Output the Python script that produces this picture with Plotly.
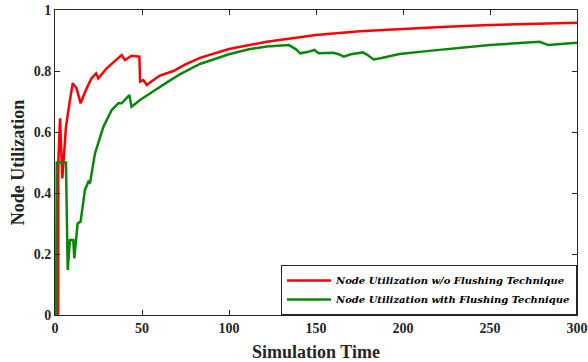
import plotly.graph_objects as go

# Red series: Node Utilization w/o Flushing Technique
red_x = [0, 1.8, 1.9, 2.9, 4.2, 6.3, 8.6, 10.2, 12.4, 14.7, 18.2, 21.0, 23.6, 24.9, 29.7, 34, 38.3, 40.2, 44.0, 48.5, 48.9, 50.8, 52.7, 56, 60.3, 68, 75, 83.3, 100, 121.7, 150, 175, 200, 225, 250, 275, 300]
red_y = [0, 0, 0.50, 0.645, 0.448, 0.617, 0.705, 0.760, 0.743, 0.694, 0.743, 0.776, 0.792, 0.776, 0.809, 0.830, 0.852, 0.836, 0.850, 0.847, 0.765, 0.770, 0.754, 0.768, 0.785, 0.800, 0.822, 0.843, 0.872, 0.896, 0.918, 0.930, 0.938, 0.945, 0.951, 0.955, 0.958]

# Green series: Node Utilization with Flushing Technique
green_x = [0, 0.6, 1.0, 6.3, 7.3, 8.6, 10.5, 11.1, 12.1, 13.0, 14.7, 17.2, 19.2, 20.1, 23.0, 27.8, 32.6, 36.4, 38.3, 40.2, 42.7, 44.0, 48.9, 55, 60, 65, 72, 83.3, 100, 112, 121.7, 134.5, 138.5, 141, 145, 149, 151.5, 160, 163, 166, 170, 177, 179.5, 183, 187, 198, 215, 232, 250, 265, 278.5, 283.5, 290, 300]
green_y = [0, 0, 0.50, 0.50, 0.148, 0.246, 0.246, 0.186, 0.246, 0.300, 0.306, 0.410, 0.437, 0.432, 0.530, 0.617, 0.672, 0.694, 0.694, 0.705, 0.721, 0.683, 0.705, 0.728, 0.748, 0.765, 0.790, 0.823, 0.855, 0.872, 0.880, 0.885, 0.871, 0.858, 0.862, 0.869, 0.858, 0.860, 0.855, 0.847, 0.855, 0.861, 0.853, 0.838, 0.842, 0.856, 0.866, 0.876, 0.885, 0.891, 0.896, 0.885, 0.889, 0.893]

series_names = ["Node Utilization w/o Flushing Technique", "Node Utilization with Flushing Technique"]
x_ticks = [0, 50, 100, 150, 200, 250, 300]
y_ticks = [0, 0.2, 0.4, 0.6, 0.8, 1]
y_tick_text = ["0", "0.2", "0.4", "0.6", "0.8", "1"]

fig = go.Figure()
fig.add_trace(go.Scatter(x=red_x, y=red_y, mode="lines", name=series_names[0],
                         line=dict(color="#ff0000", width=2.5)))
fig.add_trace(go.Scatter(x=green_x, y=green_y, mode="lines", name=series_names[1],
                         line=dict(color="#0a870a", width=2.5)))

serif = "Liberation Serif, Times New Roman, serif"
axis_common = dict(showline=True, linecolor="#262626", linewidth=1, mirror="ticks",
                   ticks="inside", ticklen=5, tickcolor="#262626", showgrid=False,
                   zeroline=False, automargin=False,
                   tickfont=dict(family=serif, size=14, color="#262626"))

fig.update_layout(
    width=588, height=362,
    margin=dict(l=55, r=11, t=10, b=47),
    paper_bgcolor="white", plot_bgcolor="white",
    xaxis=dict(range=[0, 300], tickvals=x_ticks,
               ticktext=[f"<b>{v}</b>" for v in x_ticks],
               title=dict(text="<b>Simulation Time</b>", font=dict(family=serif, size=18, color="#262626"), standoff=12),
               **axis_common),
    yaxis=dict(range=[0, 1], tickvals=y_ticks,
               ticktext=[f"<b>{t}</b>" for t in y_tick_text],
               title=dict(text="<b>Node Utilization</b>", font=dict(family=serif, size=18, color="#262626"), standoff=4),
               **axis_common),
    legend=dict(x=1, y=0, xanchor="right", yanchor="bottom",
                bgcolor="white", bordercolor="#262626", borderwidth=1,
                font=dict(family="DejaVu Serif, serif", size=10, color="black"),
                itemwidth=44, tracegroupgap=0),
    showlegend=True,
)
for tr in fig.data:
    tr.name = f"<b><i>{tr.name}</i></b>"

fig.write_html("out.html", config={"displayModeBar": False},
               post_script="document.body.style.margin='0';document.body.style.overflow='hidden';")
